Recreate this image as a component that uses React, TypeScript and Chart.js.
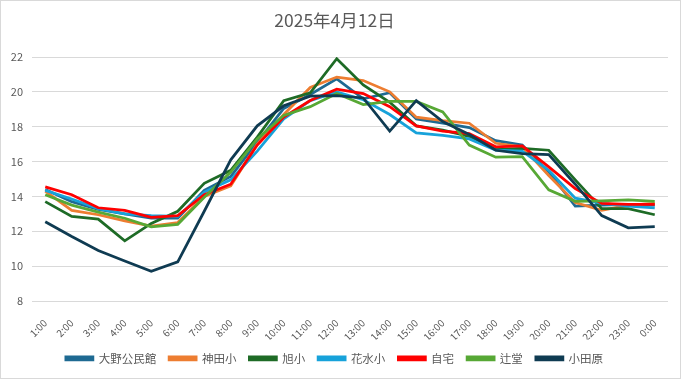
import React, { useEffect, useRef } from "react";
import { Chart, registerables } from "chart.js";

Chart.register(...registerables);

const TITLE = "2025年4月12日";
const HOURS = ["1:00","2:00","3:00","4:00","5:00","6:00","7:00","8:00","9:00","10:00","11:00","12:00","13:00","14:00","15:00","16:00","17:00","18:00","19:00","20:00","21:00","22:00","23:00","0:00"];

const SERIES_NAMES = ["大野公民館", "神田小", "旭小", "花水小", "自宅", "辻堂", "小田原"];
const SERIES_COLORS = ["#1E6A92", "#ED7D31", "#1E6B26", "#17A2DA", "#FF0000", "#57A835", "#0F3B52"];

const OHNO = [14.4, 13.7, 13.25, 13.0, 12.75, 12.75, 14.35, 15.15, 17.1, 19.05, 19.85, 20.75, 19.6, 19.95, 18.45, 18.2, 17.95, 17.2, 16.95, 15.4, 13.45, 13.5, 13.55, 13.5];
const KANDA = [14.3, 13.2, 12.95, 12.6, 12.3, 12.5, 14.0, 14.6, 17.0, 18.7, 20.25, 20.85, 20.65, 20.0, 18.55, 18.35, 18.2, 17.05, 16.85, 15.2, 13.65, 13.2, 13.5, 13.6];
const ASAHI = [13.7, 12.85, 12.7, 11.45, 12.45, 13.15, 14.75, 15.5, 17.4, 19.5, 19.95, 21.9, 20.4, 19.4, 18.05, 17.8, 17.45, 16.7, 16.75, 16.65, 14.95, 13.3, 13.3, 12.95];
const HANAMIZU = [14.35, 13.85, 13.3, 13.0, 12.9, 12.85, 14.25, 14.95, 16.6, 18.45, 19.5, 20.0, 19.55, 18.7, 17.65, 17.5, 17.3, 16.65, 16.6, 15.5, 13.9, 13.6, 13.45, 13.35];
const JITAKU = [14.55, 14.1, 13.35, 13.2, 12.8, 12.9, 14.1, 14.7, 16.95, 18.55, 19.5, 20.15, 19.9, 19.15, 18.05, 17.75, 17.6, 16.85, 16.9, 15.7, 14.45, 13.6, 13.55, 13.55];
const TSUJIDO = [14.1, 13.5, 13.1, 12.75, 12.25, 12.4, 13.95, 15.4, 17.3, 18.65, 19.15, 19.9, 19.27, 19.45, 19.45, 18.85, 16.95, 16.25, 16.28, 14.38, 13.72, 13.75, 13.8, 13.72];
const ODAWARA = [12.55, 11.7, 10.9, 10.3, 9.7, 10.25, 13.15, 16.1, 18.05, 19.2, 19.75, 19.78, 19.65, 17.75, 19.5, 18.3, 17.55, 16.65, 16.45, 16.4, 14.7, 12.9, 12.2, 12.27];

const SERIES_VALUES = [OHNO, KANDA, ASAHI, HANAMIZU, JITAKU, TSUJIDO, ODAWARA];

const Y_MIN = 8;
const Y_MAX = 22;
const Y_STEP = 2;

const FONT = "'Noto Sans CJK JP', 'Noto Sans', sans-serif";
const TEXT = "#595959";

export default function App() {
  const ref = useRef<HTMLCanvasElement | null>(null);

  useEffect(() => {
    if (!ref.current) return;
    const n = SERIES_NAMES.length;
    const chart = new Chart(ref.current, {
      type: "line",
      data: {
        labels: HOURS,
        datasets: SERIES_NAMES.map((name, i) => ({
          label: name,
          data: SERIES_VALUES[i],
          borderColor: SERIES_COLORS[i],
          backgroundColor: SERIES_COLORS[i],
          borderWidth: 2.75,
          pointRadius: 0,
          tension: 0,
          order: n - i,
        })),
      },
      options: {
        responsive: false,
        animation: false,
        devicePixelRatio: 1,
        layout: { padding: { left: 0, right: 12, top: 0, bottom: 4 } },
        plugins: {
          title: {
            display: true,
            text: TITLE,
            color: TEXT,
            font: { family: FONT, size: 17.5, weight: "normal" },
            padding: { top: 9, bottom: 26 },
          },
          legend: {
            position: "bottom",
            labels: {
              color: TEXT,
              font: { family: FONT, size: 11.5 },
              boxWidth: 27,
              boxHeight: 3,
              padding: 13,
              sort: (a: any, b: any) => a.datasetIndex - b.datasetIndex,
            },
          },
          tooltip: { enabled: false },
        },
        scales: {
          x: {
            offset: true,
            grid: { display: false },
            border: { display: false },
            ticks: {
              color: TEXT,
              font: { family: FONT, size: 10 },
              minRotation: 45,
              maxRotation: 45,
              autoSkip: false,
              padding: 8,
            },
            afterFit: (s: any) => {
              s.height = 38.5;
            },
          },
          y: {
            min: Y_MIN,
            max: Y_MAX,
            grid: { color: "#d9d9d9", drawTicks: false },
            border: { display: false },
            ticks: {
              stepSize: Y_STEP,
              color: TEXT,
              font: { family: FONT, size: 11 },
              padding: 9,
            },
            afterFit: (s: any) => {
              s.width = 31;
            },
          },
        },
      },
    });
    return () => chart.destroy();
  }, []);

  return (
    <div
      style={{
        position: "fixed",
        left: 0,
        top: 0,
        width: 681,
        height: 379,
        boxSizing: "border-box",
        border: "1px solid #d9d9d9",
        background: "#fff",
      }}
    >
      <canvas ref={ref} width={679} height={377} style={{ display: "block" }} />
    </div>
  );
}
